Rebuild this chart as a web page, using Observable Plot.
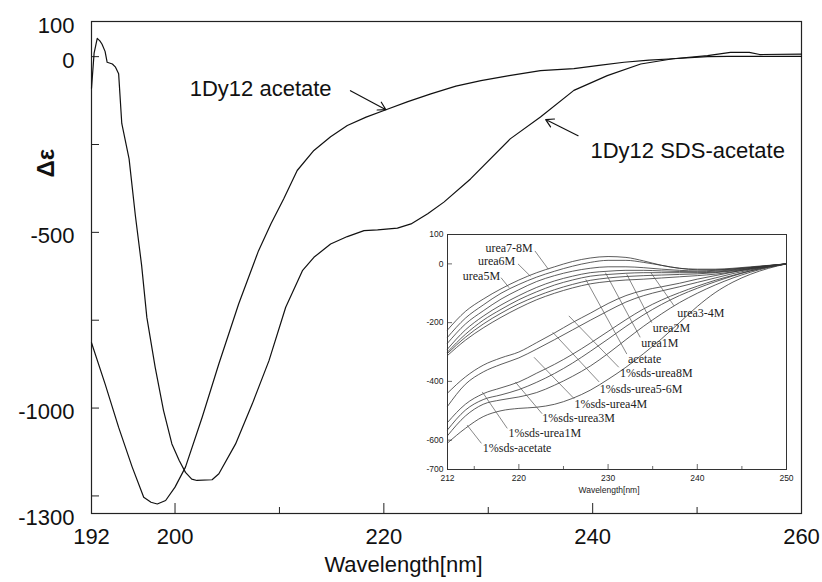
<!DOCTYPE html>
<html><head><meta charset="utf-8">
<script src="https://cdn.jsdelivr.net/npm/d3@7"></script>
<script src="https://cdn.jsdelivr.net/npm/@observablehq/plot@0.6"></script>
<style>
body{margin:0;background:#fff;}
#wrap{position:relative;width:822px;height:582px;}
#inset{position:absolute;left:410px;top:225px;}
</style></head><body><div id="wrap"><div id="main"></div><div id="inset"></div></div>
<script>
// ---------- main chart data ----------
const accWl  = [192, 193.3, 194.6, 195.9, 197, 197.7, 198.3, 199.1, 200, 201, 202.6, 204.2, 206.1, 208, 209.2, 210.4, 211.7, 213.3, 214.9, 216.5, 218.3, 220.2, 222.3, 224.5, 226.9, 229.3, 232, 235, 238.2, 240.6, 243, 245.4, 247.7, 251, 253, 256, 260];
const accVal = [-814, -931, -1055, -1168, -1254, -1268, -1273, -1263, -1225, -1168, -1026, -874, -703, -552, -475, -405, -324, -267, -228, -196, -172, -151, -128, -106, -84, -68, -54, -40, -34, -25, -16, -10, -6, 0, 1, 1, 1];
const sdsWl  = [192, 192.25, 192.55, 192.8, 193.0, 193.3, 193.5, 194.0, 194.3, 194.6, 194.9, 195.6, 196.2, 196.8, 197.3, 198.1, 198.9, 199.7, 200.4, 201.0, 201.6, 202.1, 203.55, 204.2, 205.8, 207.4, 209.0, 210.6, 212.2, 213.3, 214.9, 216.5, 218.1, 219.4, 221.3, 222.6, 224.2, 225.75, 228.3, 232.1, 235.0, 238.2, 241.4, 244.6, 247.7, 251, 253.2, 255, 256, 260];
const sdsVal = [-90, 10, 52, 45, 36, 15, -16, -21, -30, -49, -190, -291, -452, -594, -742, -884, -1007, -1102, -1149, -1183, -1202, -1206, -1204, -1187, -1102, -988, -865, -713, -609, -571, -533, -512, -495, -493, -488, -476, -447, -414, -348, -234, -172, -96, -54, -21, -6, 3, 12, 12, 6, 7];

const mainXTickLabels = [192, 200, 220, 240, 260];
const mainXMajorTicks = [200, 220, 240];
const mainXMinorTicks = [210, 230, 250];
const mainYTickLabels = [100, 0, -500, -1000, -1300];
const mainYTicks = [0, -250, -500, -750, -1000, -1250];

const mainLabelText = ["1Dy12 acetate", "1Dy12 SDS-acetate"];
const mainLabelWl   = [208.2, 249.1];
const mainLabelVal  = [-91, -267];
const arrowFromWl  = [216.8, 238.6];
const arrowFromVal = [-97, -225];
const arrowToWl    = [220.2, 235.5];
const arrowToVal   = [-151, -179];

// ---------- inset data ----------
const insetWl = [212, 214, 216, 218, 220, 222, 224, 226, 228, 230, 232, 234, 236, 238, 240, 242, 244, 246, 248, 250];
const urea78M = [-225, -162, -120, -85, -55, -30, -10, 8, 20, 25, 22, 10, -5, -15, -18, -18, -15, -10, -5, 0];
const urea6M  = [-250, -185, -140, -100, -70, -45, -25, -8, 5, 12, 12, 5, -5, -15, -20, -20, -17, -12, -6, 0];
const urea5M  = [-270, -205, -160, -120, -88, -60, -40, -25, -15, -10, -10, -13, -18, -22, -24, -22, -18, -12, -6, 0];
const urea34M = [-290, -225, -178, -140, -108, -80, -58, -42, -30, -25, -22, -22, -24, -26, -27, -25, -20, -13, -6, 0];
const urea2M  = [-300, -240, -192, -155, -122, -95, -72, -55, -42, -36, -32, -30, -30, -30, -30, -28, -22, -15, -7, 0];
const urea1M  = [-305, -250, -205, -168, -136, -110, -88, -70, -56, -48, -43, -40, -38, -36, -34, -30, -24, -16, -8, 0];
const acetate = [-312, -260, -218, -182, -150, -122, -100, -82, -68, -60, -55, -52, -48, -44, -40, -35, -27, -18, -9, 0];
const sdsUrea8M  = [-440, -385, -345, -320, -300, -268, -235, -200, -168, -135, -108, -90, -78, -66, -52, -40, -28, -16, -7, 0];
const sdsUrea56M = [-485, -410, -368, -342, -320, -290, -258, -225, -192, -160, -130, -108, -92, -78, -63, -48, -33, -20, -9, 0];
const sdsUrea4M  = [-540, -478, -442, -422, -402, -372, -342, -308, -270, -230, -190, -153, -123, -98, -76, -56, -39, -23, -10, 0];
const sdsUrea3M  = [-565, -498, -462, -446, -428, -403, -373, -338, -298, -256, -213, -173, -138, -108, -83, -61, -41, -24, -11, 0];
const sdsUrea1M  = [-585, -518, -478, -463, -453, -438, -413, -383, -348, -305, -258, -212, -170, -132, -100, -72, -48, -28, -12, 0];
const sdsAcetate = [-610, -560, -520, -500, -492, -488, -478, -458, -430, -393, -352, -305, -255, -200, -145, -98, -62, -35, -15, 0];

const insetXTickLabels = [212, 220, 230, 240, 250];
const insetXMajorTicks = [220, 230, 240];
const insetXMinorTicks = [215, 225, 235, 245];
const insetYTickLabels = [100, 0, -200, -400, -600, -700];
const insetYTicks = [0, -200, -400, -600];

const insetLabelText = ["urea7-8M", "urea6M", "urea5M", "urea3-4M", "urea2M", "urea1M", "acetate",
  "1%sds-urea8M", "1%sds-urea5-6M", "1%sds-urea4M", "1%sds-urea3M", "1%sds-urea1M", "1%sds-acetate"];
const insetLabelWl  = [218.9, 217.5, 215.8, 240.4, 237.1, 235.8, 234.1, 235.4, 233.7, 230.3, 226.7, 222.9, 219.8];
const insetLabelVal = [54, 9, -42, -168, -219, -269, -326, -371, -425, -476, -526, -577, -628];
const leaderWl1  = [221.8, 219.9, 218.0, 237.4, 234.9, 233.6, 232.1, 231.2, 229.0, 226.2, 222.6, 218.7, 215.8];
const leaderVal1 = [44, 0, -47, -143, -200, -250, -307, -352, -402, -459, -510, -560, -611];
const leaderWl2  = [223.3, 221.3, 218.9, 234.8, 232.1, 229.7, 227.5, 225.6, 223.8, 221.7, 219.6, 215.9, 214.2];
const leaderVal2 = [-18, -42, -81, -30, -36, -30, -53, -177, -233, -318, -402, -436, -549];

// ---------- main chart ----------
const W = 822, H = 582, mL = 91, mR = 21, mT = 21, mB = 69;
const innerW = W - mL - mR, innerH = H - mT - mB;
const sans = "'Liberation Sans', Arial, sans-serif";

const accData = accWl.map((w, i) => ({w, v: accVal[i]}));
const sdsData = sdsWl.map((w, i) => ({w, v: sdsVal[i]}));
const mainLabels = mainLabelText.map((t, i) => ({t, w: mainLabelWl[i], v: mainLabelVal[i]}));
const mainArrows = arrowFromWl.map((w, i) => ({x1: w, y1: arrowFromVal[i], x2: arrowToWl[i], y2: arrowToVal[i]}));

const main = Plot.plot({
  width: W, height: H,
  marginLeft: mL, marginRight: mR, marginTop: mT, marginBottom: mB,
  style: {fontFamily: sans, background: "white", color: "#111"},
  x: {domain: [192, 260]},
  y: {domain: [-1300, 100]},
  marks: [
    Plot.tickX(mainXMajorTicks, {x: d => d, insetTop: innerH - 10, stroke: "#222"}),
    Plot.tickX(mainXMinorTicks, {x: d => d, insetTop: innerH - 6, stroke: "#222"}),
    Plot.tickY(mainYTicks, {y: d => d, insetRight: innerW - 8, stroke: "#222"}),
    Plot.axisX({ticks: mainXTickLabels, tickSize: 0, tickPadding: 15, fontSize: 22, label: null, tickFormat: d => String(d)}),
    Plot.axisY({ticks: mainYTickLabels, tickSize: 0, tickPadding: 17, fontSize: 22, label: null, dy: 4, tickFormat: d => String(d)}),
    Plot.frame({stroke: "#222", strokeWidth: 1.2}),
    Plot.line(accData, {x: "w", y: "v", stroke: "#111", strokeWidth: 1.2}),
    Plot.line(sdsData, {x: "w", y: "v", stroke: "#111", strokeWidth: 1.2}),
    Plot.text(mainLabels, {x: "w", y: "v", text: "t", fontSize: 22, fill: "#111"}),
    Plot.arrow(mainArrows, {x1: "x1", y1: "y1", x2: "x2", y2: "y2", stroke: "#111", strokeWidth: 1.2, headLength: 11, bend: 0}),
    Plot.text(["Δε"], {text: d => d, frameAnchor: "top-left", dx: -55, dy: 156, rotate: -90, fontSize: 24, fontWeight: "bold", fill: "#111"}),
    Plot.text(["Wavelength[nm]"], {text: d => d, frameAnchor: "bottom", dx: -43, dy: 58, fontSize: 22, fill: "#111"})
  ]
});
document.getElementById("main").appendChild(main);

// ---------- inset chart ----------
const iW = 390, iH = 280, imL = 37, imR = 14, imT = 9, imB = 36;
const iInnerW = iW - imL - imR, iInnerH = iH - imT - imB;
const insetSeries = [urea78M, urea6M, urea5M, urea34M, urea2M, urea1M, acetate,
  sdsUrea8M, sdsUrea56M, sdsUrea4M, sdsUrea3M, sdsUrea1M, sdsAcetate];
const insetData = insetSeries.flatMap((vals, k) => vals.map((v, i) => ({s: insetLabelText[k], w: insetWl[i], v})));
const insetLabels = insetLabelText.map((t, i) => ({t, w: insetLabelWl[i], v: insetLabelVal[i]}));
const leaders = leaderWl1.map((w, i) => ({x1: w, y1: leaderVal1[i], x2: leaderWl2[i], y2: leaderVal2[i]}));

const inset = Plot.plot({
  width: iW, height: iH,
  marginLeft: imL, marginRight: imR, marginTop: imT, marginBottom: imB,
  style: {fontFamily: sans, background: "transparent", color: "#222"},
  x: {domain: [212, 250]},
  y: {domain: [-700, 100]},
  marks: [
    Plot.tickX(insetXMajorTicks, {x: d => d, insetTop: iInnerH - 5, stroke: "#444", strokeWidth: 0.8}),
    Plot.tickX(insetXMinorTicks, {x: d => d, insetTop: iInnerH - 3, stroke: "#444", strokeWidth: 0.8}),
    Plot.tickY(insetYTicks, {y: d => d, insetRight: iInnerW - 5, stroke: "#444", strokeWidth: 0.8}),
    Plot.axisX({ticks: insetXTickLabels, tickSize: 0, tickPadding: 5, fontSize: 8.5, label: null, tickFormat: d => String(d)}),
    Plot.axisY({ticks: insetYTickLabels, tickSize: 0, tickPadding: 4, fontSize: 8.5, label: null, tickFormat: d => String(d)}),
    Plot.frame({stroke: "#333", strokeWidth: 1}),
    Plot.line(insetData, {x: "w", y: "v", z: "s", stroke: "#333", strokeWidth: 0.8, curve: "monotone-x"}),
    Plot.link(leaders, {x1: "x1", y1: "y1", x2: "x2", y2: "y2", stroke: "#555", strokeWidth: 0.7}),
    Plot.text(insetLabels, {x: "w", y: "v", text: "t", fontSize: 12, fontFamily: "'Liberation Serif', 'Times New Roman', serif", fill: "#222"}),
    Plot.text(["Wavelength[nm]"], {text: d => d, frameAnchor: "bottom", dx: -8, dy: 23, fontSize: 8.5, fill: "#222"})
  ]
});
document.getElementById("inset").appendChild(inset);
</script>
</body></html>
